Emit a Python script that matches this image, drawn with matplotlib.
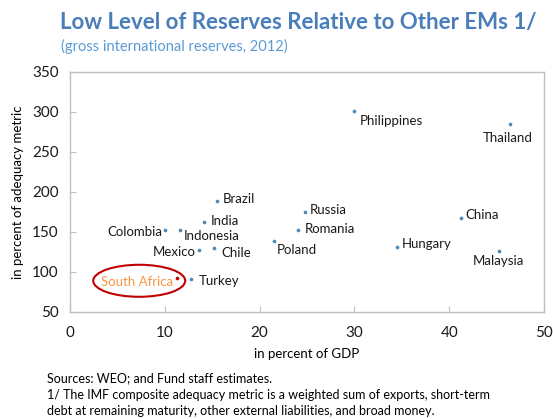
import matplotlib
matplotlib.use("Agg")
import matplotlib.pyplot as plt
from matplotlib.patches import Ellipse

plt.rcParams['font.family'] = ['Lato', 'DejaVu Sans']

# 数据
countries = ['Philippines', 'Thailand', 'Brazil', 'Russia', 'India', 'Colombia',
             'Indonesia', 'Romania', 'Poland', 'Mexico', 'Chile', 'Turkey',
             'China', 'Hungary', 'Malaysia']
gdp_pct = [30.0, 46.4, 15.5, 24.8, 14.1, 10.0, 11.6, 24.1, 21.5, 13.6, 15.2, 12.8,
           41.2, 34.5, 45.3]
metric_pct = [301, 285, 189, 175, 163, 152, 153, 152, 139, 128, 130, 91,
              167, 131, 126]
# 标签偏移（像素）和对齐
label_pos = {
    'Philippines': (5, -10, 'left'), 'Thailand': (-2, -14, 'center'),
    'Brazil': (6, 2, 'left'), 'Russia': (5, 2, 'left'), 'India': (7, 1, 'left'),
    'Colombia': (-2, -2, 'right'), 'Indonesia': (4, -6, 'left'),
    'Romania': (6, 1, 'left'), 'Poland': (3, -9, 'left'),
    'Mexico': (-3, -2, 'right'), 'Chile': (7, -5, 'left'),
    'Turkey': (7, -2, 'left'), 'China': (5, 3, 'left'),
    'Hungary': (5, 3, 'left'), 'Malaysia': (-1, -10, 'center'),
}
sa_name = 'South Africa'
sa_x, sa_y = 11.3, 93

blue = '#4a8ab8'
grey = '#bfbfbf'

fig = plt.figure(figsize=(5.53, 4.19), dpi=100)
ax = fig.add_axes([0.1266, 0.2554, 0.8571, 0.5728])

ax.scatter(gdp_pct, metric_pct, s=7, color=blue, zorder=3, linewidths=0)
for name, x, y in zip(countries, gdp_pct, metric_pct):
    dx, dy, ha = label_pos[name]
    ax.annotate(name, (x, y), xytext=(dx, dy), textcoords='offset pixels',
                ha=ha, va='center', fontsize=9.5, color='#1a1a1a')

ax.scatter([sa_x], [sa_y], s=7, color='#c00000', zorder=3, linewidths=0)
ax.annotate(sa_name, (sa_x, sa_y), xytext=(-4, -4), textcoords='offset pixels',
            ha='right', va='center', fontsize=9.5, color='#f79646')
ax.add_patch(Ellipse((7.3, 89), 9.7, 40, fill=False, edgecolor='#c00000', linewidth=1.5))

ax.set_xlim(0, 50)
ax.set_ylim(50, 350)
ax.set_xticks(range(0, 51, 10))
ax.set_yticks(range(50, 351, 50))
for s in ax.spines.values():
    s.set_color(grey)
    s.set_linewidth(1)
ax.tick_params(direction='in', length=4, color=grey, labelsize=11, pad=8, labelcolor='#1a1a1a')
ax.tick_params(axis='x', pad=10)

ax.set_xlabel('in percent of GDP', fontsize=9.5, labelpad=6)
ax.set_ylabel('in percent of adequacy metric', fontsize=9.5, labelpad=6)

fig.text(60 / 553, 1 - 22 / 419, 'Low Level of Reserves Relative to Other EMs 1/',
         fontsize=16, fontweight='bold', color='#4a7ebb', va='center')
fig.text(61 / 553, 1 - 46 / 419, '(gross international reserves, 2012)',
         fontsize=10.5, color='#5b9bd5', va='center')

fig.text(47 / 553, 1 - 378 / 419, 'Sources: WEO; and Fund staff estimates.', fontsize=9, va='center')
fig.text(47 / 553, 1 - 395 / 419,
         '1/ The IMF composite adequacy metric is a weighted sum of exports, short-term',
         fontsize=9, va='center')
fig.text(47 / 553, 1 - 411 / 419,
         'debt at remaining maturity, other external liabilities, and broad money.',
         fontsize=9, va='center')

fig.savefig('out.png', dpi=100)
